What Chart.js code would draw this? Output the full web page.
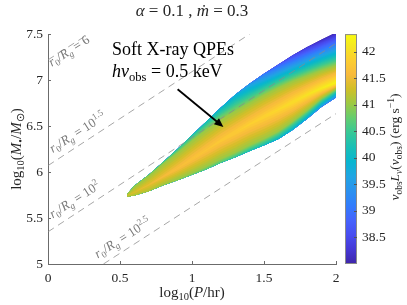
<!DOCTYPE html>
<html>
<head>
<meta charset="utf-8">
<script src="https://cdn.jsdelivr.net/npm/chart.js@4.4.1/dist/chart.umd.min.js"></script>
<style>
  html, body { margin: 0; padding: 0; background: #fff; }
  #box { width: 407px; height: 305px; }
</style>
</head>
<body>
<div id="box"><canvas id="myChart"></canvas></div>
<script>
// QPE band (x = log10 P/hr)
const colP    = [0.55, 0.6, 0.7, 0.8, 0.9, 1.0, 1.1, 1.2, 1.3, 1.4, 1.5, 1.6, 1.7, 1.8, 1.9, 2.0];
const colTop  = [5.76, 5.85, 5.97, 6.11, 6.25, 6.40, 6.55, 6.70, 6.84, 6.96, 7.07, 7.17, 7.27, 7.36, 7.44, 7.52];
const colBot  = [5.73, 5.745, 5.79, 5.855, 5.91, 5.97, 6.03, 6.10, 6.16, 6.23, 6.29, 6.36, 6.46, 6.58, 6.71, 6.81];
const colPeak = [5.745, 5.78, 5.86, 5.95, 6.04, 6.14, 6.24, 6.34, 6.43, 6.52, 6.60, 6.68, 6.76, 6.84, 6.91, 6.97];
// where the log L = 41 contour runs on the upper and lower side
const colTop41 = [5.76, 5.845, 5.96, 6.09, 6.21, 6.34, 6.46, 6.57, 6.66, 6.75, 6.84, 6.92, 6.99, 7.05, 7.11, 7.16];
const colBot41 = [5.73, 5.745, 5.79, 5.855, 5.92, 5.99, 6.06, 6.14, 6.21, 6.29, 6.36, 6.44, 6.55, 6.67, 6.80, 6.90];
// log10 nuL_nu at the peak, at the upper edge and at the lower edge
const colLmax = [41.25, 41.35, 41.45, 41.55, 41.62, 41.68, 41.72, 41.76, 41.8, 41.84, 41.88, 41.93, 42.0, 42.05, 42.15, 42.25];
const colLtop = [41.0, 40.9, 40.8, 40.6, 40.45, 40.3, 40.15, 40.0, 39.8, 39.5, 39.1, 38.8, 38.5, 38.3, 38.15, 38.05];
const colLbot = [41.1, 41.1, 41.1, 41.0, 40.9, 40.8, 40.7, 40.6, 40.45, 40.3, 40.15, 40.0, 39.85, 39.7, 39.45, 39.2];

// r0/Rg guide lines (end points)
const rExp   = ['', '1.5', '2', '2.5'];
const rBase  = ['6', '10', '10', '10'];
const rLineP = [[0, 0.28], [0, 1.4], [0, 2], [0.385, 2]];
const rLineM = [[7.22, 7.5], [6.07, 7.5], [5.35, 7.40], [5.0, 6.635]];

const xTicks  = [0, 0.5, 1, 1.5, 2];
const yTicks  = [5, 5.5, 6, 6.5, 7, 7.5];
const cbTicks = [38.5, 39, 39.5, 40, 40.5, 41, 41.5, 42];
const cbMin = 38.0, cbMax = 42.33;

const FONT = '"Liberation Serif", "Times New Roman", serif';
const INK = '#262626';

// parula
const parulaStops = [
  [0.2422,0.1504,0.6603],[0.2706,0.2147,0.8364],[0.2813,0.3006,0.9414],[0.2699,0.3892,0.9906],
  [0.1963,0.4847,0.9892],[0.1687,0.5703,0.9359],[0.1248,0.6459,0.8883],[0.0297,0.7082,0.8163],
  [0.0964,0.7500,0.7120],[0.2161,0.7843,0.5923],[0.3909,0.8029,0.4354],[0.6174,0.7876,0.2612],
  [0.8203,0.7498,0.1535],[0.9728,0.7298,0.2394],[0.9892,0.8136,0.1885],[0.9626,0.9135,0.1217],
  [0.9763,0.9831,0.0538]];
const parulaPos = [0,4,8,12,16,20,24,28,32,36,40,44,48,52,56,60,63].map(i => i / 63);

function parula(f) {
  f = Math.max(0, Math.min(1, f));
  let i = 0;
  while (i < parulaPos.length - 2 && f > parulaPos[i + 1]) i++;
  const t = (f - parulaPos[i]) / (parulaPos[i + 1] - parulaPos[i]);
  const a = parulaStops[i], b = parulaStops[i + 1];
  const c = a.map((v, k) => Math.round(255 * (v + (b[k] - v) * t)));
  return 'rgb(' + c.join(',') + ')';
}

// where a contour level sits on one side: edge -> 41 contour -> ridge
function cross(edge, at41, ridge, le, lm, lv) {
  if (lv <= le) return edge;
  if (le >= 41) return edge + (ridge - edge) * (lv - le) / (lm - le);
  if (lv <= 41) return edge + (at41 - edge) * (lv - le) / (41 - le);
  return at41 + (ridge - at41) * (lv - 41) / (lm - 41);
}

// nested filled contours of the band, one polygon per 0.1 dex of luminosity
const datasets = [];
for (let k = 0; cbMin + k * 0.1 < 42.25; k++) {
  const lv = cbMin + k * 0.1;
  const top = [], bot = [];
  colP.forEach((p, i) => {
    const lm = colLmax[i], r = colPeak[i];
    let yt = r, yb = r;
    if (lv < lm) {
      yt = cross(colTop[i], colTop41[i], r, colLtop[i], lm, lv);
      yb = cross(colBot[i], colBot41[i], r, colLbot[i], lm, lv);
    }
    top.push({x: p, y: yt});
    bot.push({x: p, y: yb});
  });
  datasets.push({
    data: top.concat(bot.reverse()),
    fill: 'shape',
    backgroundColor: parula((lv + 0.05 - cbMin) / (cbMax - cbMin)),
    borderWidth: 0,
    pointRadius: 0,
    tension: 0,
    clip: false,
    order: 1000 - k
  });
}

rLineP.forEach((ps, i) => {
  datasets.push({
    data: ps.map((p, j) => ({x: p, y: rLineM[i][j]})),
    borderColor: '#8a8a8a',
    borderWidth: 0.75,
    borderDash: [7, 5],
    pointRadius: 0,
    fill: false,
    order: 0
  });
});

function drawRich(ctx, parts, x, y, size, align) {
  const items = parts.map(([t, it, sh]) => {
    const s = sh ? size * 0.7 : size;
    const font = (it ? 'italic ' : '') + s + 'px ' + FONT;
    ctx.font = font;
    return {t, font, w: ctx.measureText(t).width, dy: sh === 1 ? size * 0.22 : sh === -1 ? -size * 0.4 : 0};
  });
  const total = items.reduce((a, b) => a + b.w, 0);
  let cx = align === 'center' ? x - total / 2 : align === 'right' ? x - total : x;
  ctx.textAlign = 'left';
  ctx.textBaseline = 'alphabetic';
  items.forEach(it => { ctx.font = it.font; ctx.fillText(it.t, cx, y + it.dy); cx += it.w; });
}

const lineLabelAt = [[0.026, 7.146], [0.033, 6.208], [0.033, 5.495], [0.346, 5.06]];
const arrowFrom = [0.9, 6.9], arrowTo = [1.218, 6.49];

const decor = {
  id: 'decor',
  afterDraw(chart) {
    const {ctx, chartArea: a, scales: {x, y, cb}} = chart;
    ctx.save();
    // inward ticks
    ctx.strokeStyle = '#6b6b6b';
    ctx.lineWidth = 1;
    ctx.beginPath();
    xTicks.forEach(v => { const px = Math.round(x.getPixelForValue(v)) + 0.5; ctx.moveTo(px, a.bottom); ctx.lineTo(px, a.bottom - 3); });
    yTicks.forEach(v => { const py = Math.round(y.getPixelForValue(v)) + 0.5; ctx.moveTo(a.left, py); ctx.lineTo(a.left + 3, py); });
    ctx.stroke();

    // colorbar
    const x0 = cb.left + 9, x1 = cb.left + 21;
    const g = ctx.createLinearGradient(0, a.bottom, 0, a.top);
    parulaPos.forEach((p, i) => g.addColorStop(p, parula(p)));
    ctx.fillStyle = g;
    ctx.fillRect(x0, a.top, x1 - x0, a.bottom - a.top);
    ctx.strokeStyle = '#8a8a8a';
    ctx.strokeRect(x0 + 0.5, a.top + 0.5, x1 - x0 - 1, a.bottom - a.top - 1);
    ctx.strokeStyle = '#555';
    ctx.beginPath();
    cbTicks.forEach(v => { const py = Math.round(cb.getPixelForValue(v)) + 0.5; ctx.moveTo(x1, py); ctx.lineTo(x1 - 3, py); });
    ctx.stroke();

    ctx.fillStyle = INK;
    // colorbar title
    ctx.save();
    ctx.translate(399, (a.top + a.bottom) / 2 - 2);
    ctx.rotate(-Math.PI / 2);
    drawRich(ctx, [['ν', 1], ['obs', 0, 1], ['L', 1], ['ν', 1, 1], ['(', 0], ['ν', 1], ['obs', 0, 1], [') (erg s', 0], ['−1', 0, -1], [')', 0]], 0, 0, 13.5, 'center');
    ctx.restore();

    // axis titles
    const xm = (a.left + a.right) / 2;
    drawRich(ctx, [['log', 0], ['10', 0, 1], ['(', 0], ['P', 1], ['/hr)', 0]], xm, 297, 15, 'center');
    ctx.save();
    ctx.translate(21, (a.top + a.bottom) / 2);
    ctx.rotate(-Math.PI / 2);
    drawRich(ctx, [['log', 0], ['10', 0, 1], ['(', 0], ['M', 1], ['•', 0, 1], ['/', 0], ['M', 1], ['⊙', 0, 1], [')', 0]], 0, 0, 15, 'center');
    ctx.restore();

    // title
    drawRich(ctx, [['α', 1], [' = 0.1 , ', 0], ['ṁ', 1], [' = 0.3', 0]], xm, 16, 17, 'center');

    // annotation
    ctx.fillStyle = '#000';
    drawRich(ctx, [['Soft X-ray QPEs', 0]], 112, 55, 18, 'left');
    drawRich(ctx, [['hν', 1], ['obs', 0, 1], [' = 0.5 keV', 0]], 112, 77, 18, 'left');
    const ax0 = x.getPixelForValue(arrowFrom[0]), ay0 = y.getPixelForValue(arrowFrom[1]);
    const ax1 = x.getPixelForValue(arrowTo[0]), ay1 = y.getPixelForValue(arrowTo[1]);
    const ang = Math.atan2(ay1 - ay0, ax1 - ax0);
    ctx.strokeStyle = '#000';
    ctx.lineWidth = 1.8;
    ctx.beginPath();
    ctx.moveTo(ax0, ay0);
    ctx.lineTo(ax1 - 7 * Math.cos(ang), ay1 - 7 * Math.sin(ang));
    ctx.stroke();
    ctx.beginPath();
    ctx.moveTo(ax1, ay1);
    ctx.lineTo(ax1 - 9 * Math.cos(ang) + 4 * Math.sin(ang), ay1 - 9 * Math.sin(ang) - 4 * Math.cos(ang));
    ctx.lineTo(ax1 - 9 * Math.cos(ang) - 4 * Math.sin(ang), ay1 - 9 * Math.sin(ang) + 4 * Math.cos(ang));
    ctx.closePath();
    ctx.fill();

    // guide line labels
    const rot = -Math.atan((y.getPixelForValue(5) - y.getPixelForValue(6)) / (x.getPixelForValue(1) - x.getPixelForValue(0)));
    ctx.fillStyle = '#7a7a7a';
    lineLabelAt.forEach((pt, i) => {
      ctx.save();
      ctx.translate(x.getPixelForValue(pt[0]), y.getPixelForValue(pt[1]));
      ctx.rotate(rot);
      const parts = [['r', 1], ['0', 0, 1], ['/', 0], ['R', 1], ['g', 1, 1], [' = ' + rBase[i], 0]];
      if (rExp[i]) parts.push([rExp[i], 0, -1]);
      drawRich(ctx, parts, 0, 0, 13, 'left');
      ctx.restore();
    });
    ctx.restore();
  }
};

const tickFont = {family: FONT, size: 13.5};

new Chart(document.getElementById('myChart'), {
  type: 'line',
  data: {datasets},
  plugins: [decor],
  options: {
    responsive: true,
    maintainAspectRatio: false,
    animation: false,
    events: [],
    layout: {padding: {top: 24, left: 0, right: 0, bottom: 0}},
    plugins: {legend: {display: false}, tooltip: {enabled: false}},
    scales: {
      x: {
        type: 'linear', min: 0, max: 2,
        afterBuildTicks: s => { s.ticks = xTicks.map(v => ({value: v})); },
        afterFit: s => { s.height = 41; },
        grid: {display: false, drawTicks: false},
        border: {display: true, color: '#6b6b6b', width: 1},
        ticks: {padding: 6, font: tickFont, color: INK, callback: v => String(v)}
      },
      y: {
        type: 'linear', min: 5, max: 7.5,
        afterBuildTicks: s => { s.ticks = yTicks.map(v => ({value: v})); },
        afterFit: s => { s.width = 48; },
        grid: {display: false, drawTicks: false},
        border: {display: true, color: '#6b6b6b', width: 1},
        ticks: {padding: 5, font: tickFont, color: INK, callback: v => String(v)}
      },
      cb: {
        type: 'linear', axis: 'y', position: 'right', min: cbMin, max: cbMax,
        afterBuildTicks: s => { s.ticks = cbTicks.map(v => ({value: v})); },
        afterFit: s => { s.width = 71; },
        grid: {display: false, drawTicks: false},
        border: {display: false},
        ticks: {padding: 26, font: tickFont, color: INK, callback: v => String(v)}
      }
    }
  }
});
</script>
</body>
</html>
